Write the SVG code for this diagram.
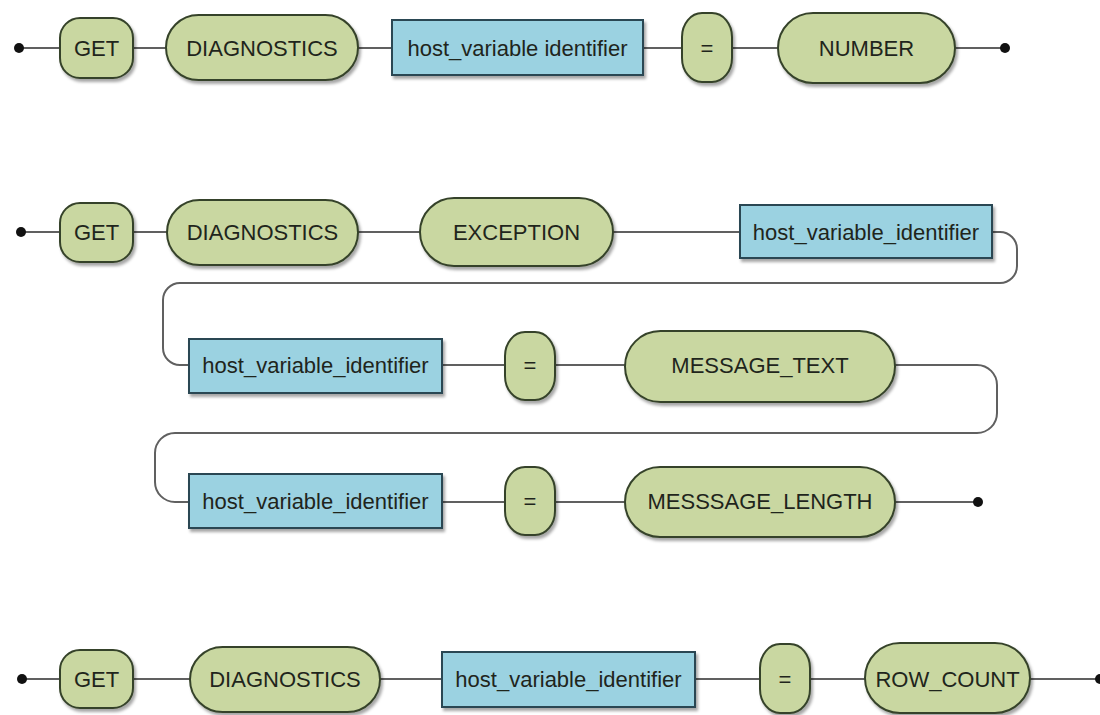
<svg xmlns="http://www.w3.org/2000/svg" width="1100" height="715" viewBox="0 0 1100 715">
<defs>
<filter id="sh" x="-10%" y="-10%" width="130%" height="140%">
<feDropShadow dx="2" dy="3" stdDeviation="1.5" flood-color="#000" flood-opacity="0.35"/>
</filter>
</defs>
<style>
.kw{fill:#c9d7a1;stroke:#36432a;stroke-width:2;filter:url(#sh)}
.id{fill:#9bd2e1;stroke:#2a4652;stroke-width:2;filter:url(#sh)}
.t{font-family:"Liberation Sans",Arial,sans-serif;font-size:22px;fill:#1f251c;text-anchor:middle;dominant-baseline:central}
.c{fill:none;stroke:#606060;stroke-width:2}
.dot{fill:#111}
</style>
<rect width="1100" height="715" fill="#fff"/>
<g id="connectors">
<path class="c" d="M19 48 H1005"/>
<path class="c" d="M20 232 H1000 A17 17 0 0 1 1017 249 V266 A17 17 0 0 1 1000 283 H180 A17 17 0 0 0 163 300 V348 A17 17 0 0 0 180 365 H977 A20 20 0 0 1 997 385 V413 A20 20 0 0 1 977 433 H175 A20 20 0 0 0 155 453 V482 A20 20 0 0 0 175 502 H978"/>
<path class="c" d="M22 679 H1100"/>
<circle class="dot" cx="19" cy="48" r="5"/>
<circle class="dot" cx="1005" cy="48" r="5"/>
<circle class="dot" cx="21" cy="232" r="5"/>
<circle class="dot" cx="978" cy="502" r="5"/>
<circle class="dot" cx="22" cy="679" r="5"/>
<circle class="dot" cx="1100" cy="679" r="5"/>
</g>
<!-- Row 1 -->
<g id="r1-get"><rect class="kw" x="60" y="18" width="73" height="60" rx="20"/><text class="t" x="96.5" y="48">GET</text></g>
<g id="r1-diag"><rect class="kw" x="166" y="15" width="192" height="65" rx="32.5"/><text class="t" x="262" y="48">DIAGNOSTICS</text></g>
<g id="r1-hvi"><rect class="id" x="392" y="20" width="251" height="55"/><text class="t" x="517.5" y="48">host_variable identifier</text></g>
<g id="r1-eq"><rect class="kw" x="682" y="13" width="50" height="69" rx="20" ry="24"/><text class="t" x="707" y="48">=</text></g>
<g id="r1-number"><rect class="kw" x="778" y="13" width="177" height="70" rx="35"/><text class="t" x="866.5" y="48">NUMBER</text></g>
<!-- Row 2 -->
<g id="r2-get"><rect class="kw" x="60" y="203" width="73" height="59" rx="20"/><text class="t" x="96.5" y="232">GET</text></g>
<g id="r2-diag"><rect class="kw" x="167" y="200" width="191" height="65" rx="32.5"/><text class="t" x="262.5" y="232">DIAGNOSTICS</text></g>
<g id="r2-exception"><rect class="kw" x="420" y="198" width="193" height="68" rx="34"/><text class="t" x="516.5" y="232">EXCEPTION</text></g>
<g id="r2-hvi"><rect class="id" x="740" y="205" width="252" height="53"/><text class="t" x="866" y="232">host_variable_identifier</text></g>
<!-- Row 3 -->
<g id="r3-hvi"><rect class="id" x="189" y="339" width="253" height="54"/><text class="t" x="315.5" y="365">host_variable_identifier</text></g>
<g id="r3-eq"><rect class="kw" x="505" y="332" width="50" height="68" rx="20" ry="24"/><text class="t" x="530" y="365">=</text></g>
<g id="r3-msgtext"><rect class="kw" x="625" y="331" width="270" height="71" rx="35.5"/><text class="t" x="760" y="365">MESSAGE_TEXT</text></g>
<!-- Row 4 -->
<g id="r4-hvi"><rect class="id" x="189" y="474" width="253" height="54"/><text class="t" x="315.5" y="501">host_variable_identifier</text></g>
<g id="r4-eq"><rect class="kw" x="505" y="467" width="50" height="68" rx="20" ry="24"/><text class="t" x="530" y="501">=</text></g>
<g id="r4-msglen"><rect class="kw" x="625" y="467" width="270" height="70" rx="35"/><text class="t" x="760" y="501">MESSSAGE_LENGTH</text></g>
<!-- Row 5 -->
<g id="r5-get"><rect class="kw" x="60" y="650" width="73" height="58" rx="20"/><text class="t" x="96.5" y="679">GET</text></g>
<g id="r5-diag"><rect class="kw" x="190" y="647" width="190" height="65" rx="32.5"/><text class="t" x="285" y="679">DIAGNOSTICS</text></g>
<g id="r5-hvi"><rect class="id" x="442" y="652" width="253" height="55"/><text class="t" x="568.5" y="679">host_variable_identifier</text></g>
<g id="r5-eq"><rect class="kw" x="760" y="644" width="50" height="69" rx="20" ry="24"/><text class="t" x="785" y="679">=</text></g>
<g id="r5-rowcount"><rect class="kw" x="865" y="643" width="165" height="70" rx="35"/><text class="t" x="947.5" y="679">ROW_COUNT</text></g>
</svg>
